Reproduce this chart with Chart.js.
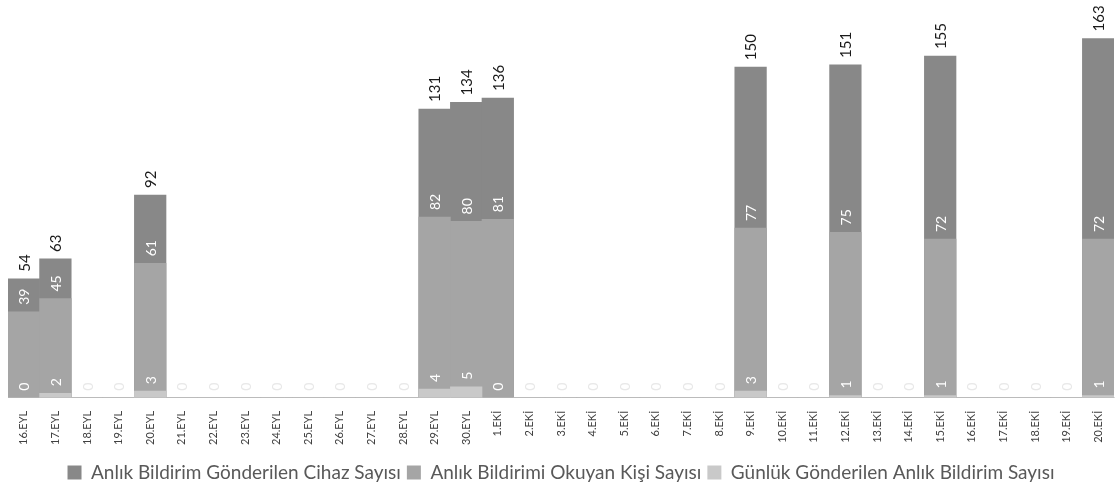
<!DOCTYPE html>
<html>
<head>
<meta charset="utf-8">
<script src="https://cdn.jsdelivr.net/npm/chart.js@4/dist/chart.umd.min.js"></script>
<style>
  html, body { margin: 0; padding: 0; background: #fff; }
  #wrap { width: 1118px; height: 494px; }
</style>
</head>
<body>
<div id="wrap"><canvas id="myCanvas"></canvas></div>
<script>
var categories = ['16.EYL', '17.EYL', '18.EYL', '19.EYL', '20.EYL', '21.EYL', '22.EYL', '23.EYL', '24.EYL',
    '25.EYL', '26.EYL', '27.EYL', '28.EYL', '29.EYL', '30.EYL',
    '1.EKİ', '2.EKİ', '3.EKİ', '4.EKİ', '5.EKİ', '6.EKİ', '7.EKİ', '8.EKİ', '9.EKİ', '10.EKİ',
    '11.EKİ', '12.EKİ', '13.EKİ', '14.EKİ', '15.EKİ', '16.EKİ', '17.EKİ', '18.EKİ', '19.EKİ', '20.EKİ'];

// Anlık Bildirim Gönderilen Cihaz Sayısı
var deviceCounts = [54, 63, 0, 0, 92, 0, 0, 0, 0, 0, 0, 0, 0, 131, 134,
    136, 0, 0, 0, 0, 0, 0, 0, 150, 0, 0, 151, 0, 0, 155, 0, 0, 0, 0, 163];
// Anlık Bildirimi Okuyan Kişi Sayısı
var readerCounts = [39, 45, 0, 0, 61, 0, 0, 0, 0, 0, 0, 0, 0, 82, 80,
    81, 0, 0, 0, 0, 0, 0, 0, 77, 0, 0, 75, 0, 0, 72, 0, 0, 0, 0, 72];
// Günlük Gönderilen Anlık Bildirim Sayısı
var dailySent = [0, 2, 0, 0, 3, 0, 0, 0, 0, 0, 0, 0, 0, 4, 5,
    0, 0, 0, 0, 0, 0, 0, 0, 3, 0, 0, 1, 0, 0, 1, 0, 0, 0, 0, 1];

var seriesNames = ['Anlık Bildirim Gönderilen Cihaz Sayısı', 'Anlık Bildirimi Okuyan Kişi Sayısı',
    'Günlük Gönderilen Anlık Bildirim Sayısı'];

var FONT = 'Lato, "Open Sans", sans-serif';

// rotated value labels like the excel original
var barLabels = {
    id: 'barLabels',
    afterDatasetsDraw: function (chart) {
        var ctx = chart.ctx;
        chart.data.datasets.forEach(function (ds, i) {
            var meta = chart.getDatasetMeta(i);
            meta.data.forEach(function (bar, j) {
                var empty = deviceCounts[j] === 0;
                if (empty && i !== 2) return;
                ctx.save();
                ctx.font = (i === 0 ? '15px ' : '14px ') + FONT;
                ctx.fillStyle = empty ? '#e8e8e8' : ds.labelColor;
                ctx.translate(bar.x, bar.y - 7);
                ctx.rotate(-Math.PI / 2);
                ctx.textAlign = 'left';
                ctx.textBaseline = 'middle';
                ctx.fillText(String(ds.data[j]), 0, 1);
                ctx.restore();
            });
        });
    }
};

var ctx = document.getElementById('myCanvas').getContext('2d');
var myChart = new Chart(ctx, {
    type: 'bar',
    data: {
        labels: categories,
        datasets: [{
            label: seriesNames[0],
            data: deviceCounts,
            backgroundColor: '#888888',
            labelColor: '#1a1a1a',
            order: 3
        }, {
            label: seriesNames[1],
            data: readerCounts,
            backgroundColor: '#a5a5a5',
            labelColor: '#ffffff',
            order: 2
        }, {
            label: seriesNames[2],
            data: dailySent,
            backgroundColor: '#c9c9c9',
            labelColor: '#ffffff',
            order: 1
        }]
    },
    options: {
        responsive: true,
        maintainAspectRatio: false,
        animation: false,
        datasets: {
            bar: {
                grouped: false,
                barPercentage: 1,
                categoryPercentage: 1,
                borderWidth: 0
            }
        },
        layout: {
            padding: { left: 8, right: 4, top: 1, bottom: 2 }
        },
        plugins: {
            tooltip: { enabled: false },
            legend: {
                position: 'bottom',
                labels: {
                    boxWidth: 14,
                    boxHeight: 14,
                    padding: 6,
                    color: '#595959',
                    font: { family: FONT, size: 19 },
                    sort: function (a, b) { return a.datasetIndex - b.datasetIndex; }
                }
            }
        },
        scales: {
            x: {
                grid: { display: false },
                border: { display: true, color: '#d9d9d9', width: 1 },
                afterFit: function (scale) { scale.height += 7; },
                ticks: {
                    minRotation: 90,
                    maxRotation: 90,
                    autoSkip: false,
                    padding: 5,
                    color: '#404040',
                    font: { family: FONT, size: 11 }
                }
            },
            y: {
                display: false,
                min: 0,
                max: 180
            }
        }
    },
    plugins: [barLabels]
});
</script>
</body>
</html>
